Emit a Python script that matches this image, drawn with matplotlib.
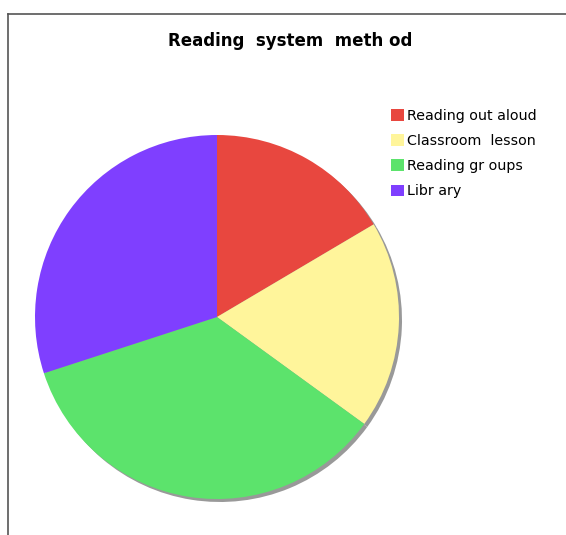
import numpy as np
import matplotlib
matplotlib.use('Agg')
import matplotlib.pyplot as plt
from matplotlib.lines import Line2D

# datos
labels = ['Reading out aloud', 'Classroom  lesson', 'Reading gr oups', 'Libr ary']
values = [16.5, 18.5, 35.0, 30.0]
colors = ['#E8473F', '#FFF59B', '#5CE36C', '#7F3FFF']

W, H = 566, 535
fig = plt.figure(figsize=(W / 100, H / 100), dpi=100)

# marco (solo arriba e izquierda)
fig.add_artist(Line2D([8 / W, 1], [1 - 14 / H, 1 - 14 / H], color='#555555', lw=1.2))
fig.add_artist(Line2D([8 / W, 8 / W], [0, 1 - 14 / H], color='#555555', lw=1.2))

cx, cy, r = 217, 317, 182
ax = fig.add_axes([(cx - r) / W, (H - cy - r) / H, 2 * r / W, 2 * r / H])

# sombra
off = 3 / r
ax.pie(values, colors=['#999999'] * len(values), startangle=90, counterclock=False,
       center=(off, -off), radius=1)
wedges, _ = ax.pie(values, colors=colors, startangle=90, counterclock=False,
                   radius=1)
ax.set_xlim(-1, 1)
ax.set_ylim(-1, 1)
ax.set_aspect('equal')
ax.axis('off')

fig.text(290 / W, 1 - 41 / H, 'Reading  system  meth od', ha='center', va='center',
         fontsize=12, fontweight='bold')

fig.legend(wedges, labels, loc='upper left', bbox_to_anchor=(391 / W, 1 - 109 / H),
           frameon=False, fontsize=10.3, handlelength=0.9, handleheight=0.9,
           handletextpad=0.25, labelspacing=0.78, borderaxespad=0, borderpad=0)

fig.savefig('out.png', dpi=100)
